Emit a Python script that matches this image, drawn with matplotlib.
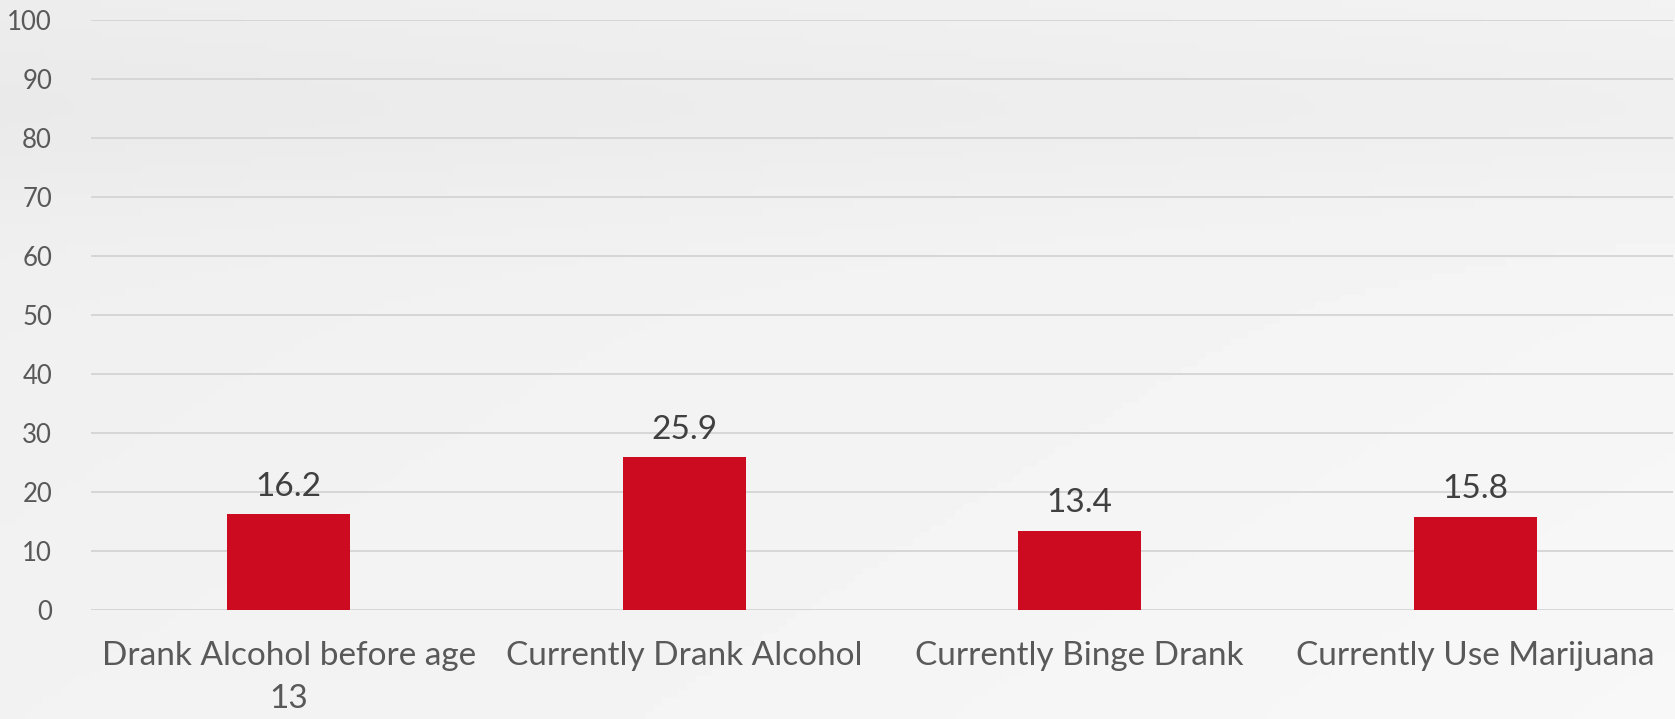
import numpy as np
from matplotlib import pyplot as plt

categories = ["Drank Alcohol before age\n13", "Currently Drank Alcohol",
              "Currently Binge Drank", "Currently Use Marijuana"]
values = [16.2, 25.9, 13.4, 15.8]
y_ticks = [0, 10, 20, 30, 40, 50, 60, 70, 80, 90, 100]

plt.rcParams['font.family'] = ['Lato', 'DejaVu Sans']

fig = plt.figure(figsize=(16.75, 7.19), dpi=100)
fig.patch.set_facecolor('#efefef')

# soft grey background like the slide
bg = fig.add_axes([0, 0, 1, 1], zorder=-10)
gx = np.linspace(0, 1, 200)
gy = np.linspace(0, 1, 100)
X, Y = np.meshgrid(gx, gy)
shade = 0.935 + 0.035 * (X * 0.6 + Y * 0.4) - 0.02 * np.exp(-((Y - 0.15) ** 2) / 0.02)
bg.imshow(shade, cmap='gray', vmin=0, vmax=1, aspect='auto', extent=[0, 1, 0, 1])
bg.axis('off')

ax = fig.add_axes([0.0543, 0.1516, 0.9445, 0.8206])
ax.patch.set_alpha(0)

x = np.arange(len(categories))
bars = ax.bar(x, values, width=0.31, color='#cc0a20', zorder=3)

for b, v in zip(bars, values):
    ax.annotate(str(v), (b.get_x() + b.get_width() / 2, v), xytext=(0, 9),
                textcoords='offset points', ha='center', va='bottom',
                fontsize=24, color='#404040')

ax.set_xlim(-0.5, len(categories) - 0.5)
ax.set_ylim(0, 100)
ax.set_yticks(y_ticks)
ax.set_xticks(x)
ax.set_xticklabels(categories, fontsize=24, color='#595959', linespacing=1.55)
ax.tick_params(axis='y', labelsize=18.5, colors='#595959', length=0, pad=28)
ax.tick_params(axis='x', length=0, pad=22)
ax.grid(axis='y', color='#d4d4d4', linewidth=1.3, zorder=0)
for s in ax.spines.values():
    s.set_visible(False)

plt.savefig('out.png', dpi=100, facecolor=fig.get_facecolor())
